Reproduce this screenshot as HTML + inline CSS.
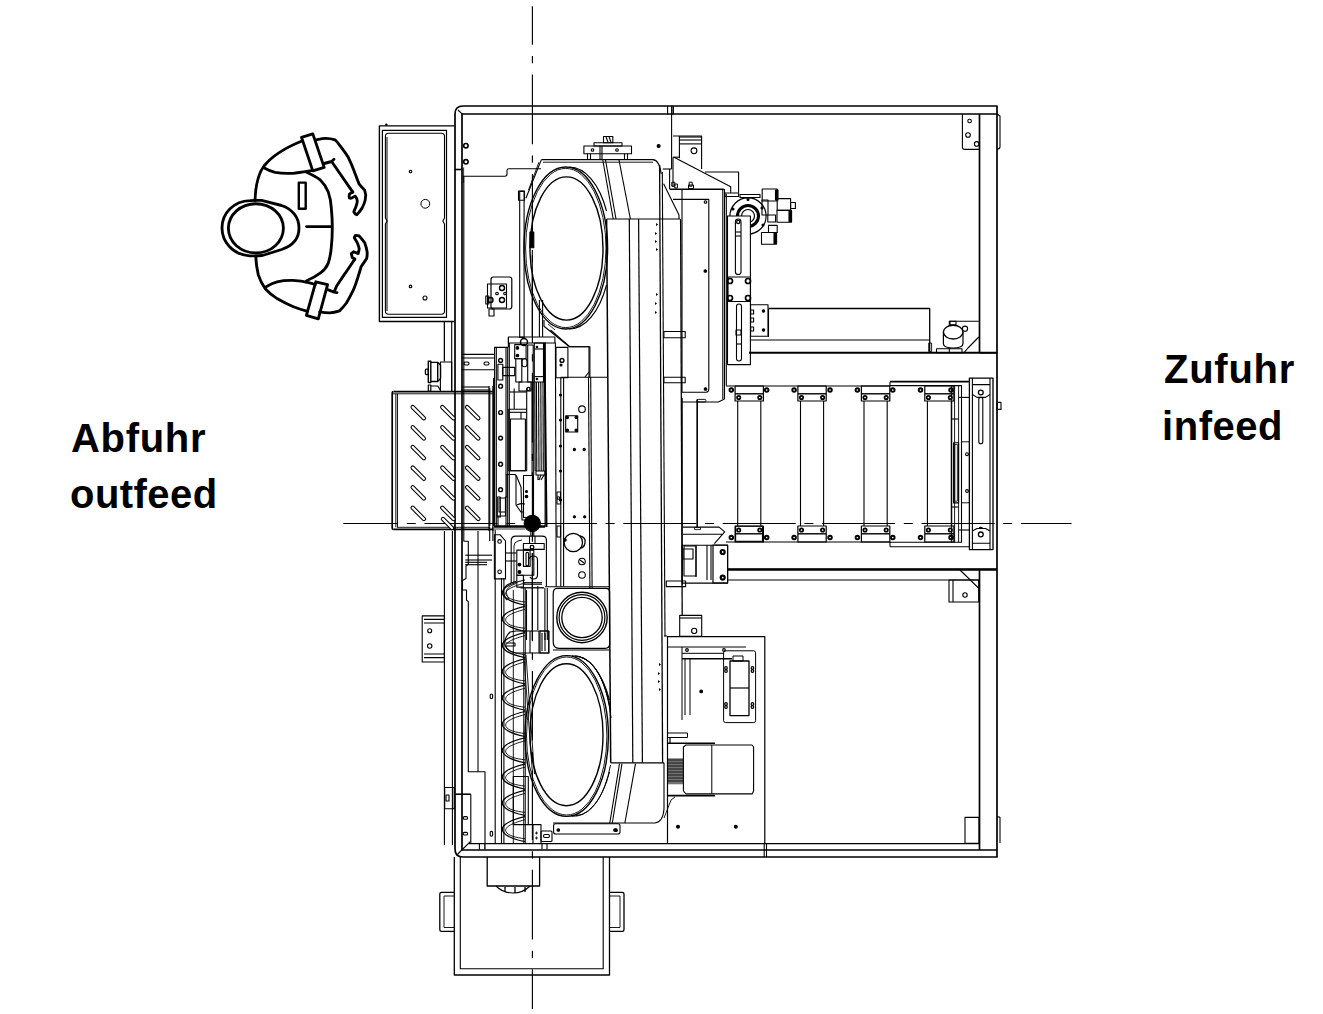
<!DOCTYPE html>
<html><head><meta charset="utf-8"><style>
html,body{margin:0;padding:0;background:#fff;width:1323px;height:1014px;overflow:hidden}
.t{position:absolute;font-family:"Liberation Sans",sans-serif;font-weight:bold;font-size:40px;line-height:1;color:#000;white-space:nowrap}
svg{position:absolute;left:0;top:0}
</style></head><body>
<div class="t" style="left:71px;top:418px;letter-spacing:0.7px">Abfuhr</div>
<div class="t" style="left:70px;top:474px;letter-spacing:0.45px">outfeed</div>
<div class="t" style="left:1164px;top:349px;letter-spacing:0.75px">Zufuhr</div>
<div class="t" style="left:1162px;top:406px;letter-spacing:0.55px">infeed</div>
<svg width="1323" height="1014" viewBox="0 0 1323 1014" fill="none" stroke="#000" stroke-width="1" stroke-linecap="butt" stroke-linejoin="round">
<!-- centerlines -->
<g stroke-width="1.15">
<line x1="532.4" y1="6.3" x2="532.4" y2="1009" stroke-dasharray="69.6 11.3 7.2 11.3" stroke-dashoffset="31.1"/>
<line x1="343.3" y1="523.5" x2="1071.6" y2="523.5" stroke-dasharray="73 8.7 9 8.7" stroke-dashoffset="18.2"/>
</g>
<!-- PERSON -->
<g stroke-width="2.85" stroke-linejoin="round" stroke-linecap="round">
<path d="M261.6,200.4 L281.6,205.5 C292,209 299,217 299,228 C299,239 292,246 281.6,249.5 L262.3,255.5 C258,256 253,256 249.5,255.8 C233,254.5 222,242 222,228 C222,213 234,201 250,200.6 C254,200.4 258,200.3 261.6,200.4 Z"/>
<ellipse cx="255.9" cy="228.3" rx="27.5" ry="24.6"/>
<path d="M255,200.5 C255.5,186 258,174 264,166 C272,156 287,147 302,141"/>
<path d="M301.5,137.3 L312.8,133.9 L324.2,167.4 L312.8,170.9 Z"/>
<path d="M316.3,139.8 C320,139 323,138.3 325.7,138.3 C329,138.3 332,138.8 335,139.8 C337.5,142 339.5,145 341.5,147.7 C344,151 346.5,154.5 348.4,157.6 C350.5,162 352.5,166.5 354.3,171.4 C356,176 357.5,180.5 359.2,184.2 C361,186.5 363,188.5 364.7,190.2 C366,193.5 366,197 365.2,200 C364.5,203 363.5,205.5 362.2,207.9 C360.5,210.5 358.8,212.8 356.8,214.8 C355.5,214.2 354.3,213 353.8,211.9 C354.5,210 355.2,208.5 355.8,206.9 C356.5,205 357.3,203 357.3,201 C357,199 356.3,197.2 355.3,196.1 C354,196.5 353,197.5 351.8,198 C351,198.3 350,198.3 349.4,198 C349,196.7 349,195.3 349.4,194.1 C350.5,193.3 351.7,192.6 352.8,192.1"/>
<path d="M352.8,192.1 L331.6,161.5 L334,159.3 M324.2,163.5 L331.6,161.5"/>
<path d="M263.3,167.4 C267,169.5 271,171.3 275.1,172.3 C281,173.5 287,173.6 292.8,173.3 C298,172.8 302.5,172 306.6,171.4 L312.8,170.4"/>
<path d="M306.6,172.3 C311.5,174.5 316.5,177 320.5,180.2 C324,183.5 326.5,187.5 328.3,192.1 C330,197 331,202.5 331.3,207.8 C332,214.5 332.3,221 332.3,227.6 C332.3,234 332,241 331.3,247.3 C330.8,252.8 329.8,258.3 328.3,263.1 C326.5,267.5 323.8,270.5 320.5,272.9 C316.3,276 311.5,278.7 306.6,280.8"/>
<path d="M255.8,256.2 C256,263 257,269.3 258.3,274.9 C260,280 262.5,284.8 265.2,288.7 C268.7,292.5 272.7,295.8 277.1,298.6 C282,301.5 287.3,304.3 292.8,306.5 C297.5,308.4 302.5,310 307.6,311.4"/>
<path d="M315.8,281.8 L327.6,284.7 L318.3,318.8 L306.4,315.3 Z"/>
<path d="M319.7,311.9 C323,312.5 326.3,312.9 329.6,312.9 C333,312.8 336.4,312 339.5,310.9 C342,308.5 344.3,305.8 346.4,303 C348.8,299 351.2,294.6 353.3,290.2 C355.2,285.6 356.8,281 358.2,276.3 C359.3,273 360.3,269.6 361.2,266.5 C363,263.8 364.9,261.2 366.6,258.6 C367.2,256.3 367.3,254 367.1,251.7 C366.6,248.6 365.8,245.6 364.7,242.8 C363,240.3 361.2,238 359.2,235.9 C357.9,235.5 356.5,235.3 355.3,235.4 C354.8,236.2 354.5,237 354.3,237.8 C355.3,239.5 356.3,241.1 357.3,242.8 C358.1,244.8 358.9,246.7 359.2,248.7 C359,250.4 358.7,252 358.2,253.6 C356.7,253 355.3,252.3 353.8,251.7 C353,252.3 352.1,253 351.3,253.6 C351.6,255 352,256.3 352.3,257.6 C353.2,258.2 354,258.7 354.8,259.1"/>
<path d="M354.8,259.1 C351.5,264 348,269.3 344.4,274.4 C341.8,278.3 339.1,282.3 336.5,286.2 L334.1,292.1 L337,292.6 M327.6,289.7 L334.1,292.1"/>
<path d="M266.2,286.7 C269.8,284.5 273.4,282.8 277.1,281.8 C282.3,280.6 287.5,280.3 292.8,280.4 C298.5,280.7 304,281.5 309.6,282.8 L315.3,284.5"/>
<rect x="298.8" y="182.6" width="6.9" height="26.2" stroke-width="2.4"/>
<line x1="306.6" y1="226.6" x2="331.3" y2="226.6"/>
</g>
<!-- MAIN FRAME -->
<g stroke-width="1.7">
<path d="M997,106 L463,106 Q455,106 455,114 L455,849 Q455,857 463,857 L997,857 Z"/>
<path d="M997,114 L462,114 L462,850 L997,850"/>
<line x1="979.5" y1="114" x2="979.5" y2="353"/>
<line x1="979.5" y1="570" x2="979.5" y2="850"/>
<line x1="469" y1="843.6" x2="979.5" y2="843.6" stroke-width="1.3"/>
</g>
<g stroke-width="1.1">
<!-- frame joints -->
<line x1="667.6" y1="106" x2="667.6" y2="114.3"/><line x1="671.6" y1="106" x2="671.6" y2="169"/><line x1="673.2" y1="106" x2="673.2" y2="114.5" stroke-width="1.6"/>
<line x1="662.7" y1="169" x2="671.6" y2="169"/><line x1="669.6" y1="169" x2="669.6" y2="189"/><line x1="673" y1="157.2" x2="673" y2="187"/>
<line x1="764.2" y1="843.6" x2="764.2" y2="857"/><line x1="766.5" y1="843.6" x2="766.5" y2="857"/>
<path d="M997,114 L1000,116 L1000,147 Q1000,149 997,149"/>
<!-- top-right bracket -->
<path d="M962.4,114 L962.4,147 Q962.4,149.4 965,149.4 L979.5,149.4"/>
<circle cx="969.6" cy="121" r="1.8"/><circle cx="968" cy="135" r="2.3"/><circle cx="976.7" cy="143.9" r="2.3"/>
<!-- frame left inner lines -->

<line x1="444.4" y1="321" x2="444.4" y2="361"/>
<line x1="444.4" y1="531" x2="444.4" y2="845"/>
<line x1="452.4" y1="531" x2="452.4" y2="845"/>
<path d="M462.7,176.2 L505,176.2 Q507,176.2 507,174 L507,170.5 Q507,168.7 509,168.7 L541,168.7"/>
<circle cx="465.9" cy="145.7" r="2.2" stroke-width="1.6"/><circle cx="465.9" cy="161.8" r="2.2" stroke-width="1.6"/>
<line x1="458" y1="110" x2="462.3" y2="114.2"/>
<line x1="455" y1="169.5" x2="462.3" y2="169.5" stroke-width="1.6"/>
<line x1="463.6" y1="167.5" x2="463.6" y2="183" stroke-width="0.8"/>
</g>
<!-- DOOR PANEL -->
<g stroke-width="1.3">
<path d="M454.5,125.9 L379.4,125.9 L379.4,321.5 L454.5,321.5" stroke-width="1.4"/>
<rect x="382.4" y="130.4" width="64.1" height="187" stroke-width="1.2"/>
<path d="M388.5,133.3 L441.5,133.3 Q444.5,133.3 444.5,136.5 L444.5,218 L442.8,221 L444.5,224 L444.5,311 Q444.5,314.2 441.5,314.2 L388.5,314.2 Q385.4,314.2 385.4,311 L385.4,224 L387.1,221 L385.4,218 L385.4,136.5 Q385.4,133.3 388.5,133.3 Z" stroke-width="1.1"/>
<line x1="387" y1="137" x2="387" y2="311" stroke-width="1"/>
<circle cx="386.3" cy="124.6" r="1.2" fill="#000" stroke="none"/>
<circle cx="410.5" cy="171.5" r="1.3" stroke-width="1.1"/><circle cx="425.3" cy="203.8" r="4.4" stroke-width="1"/>
<circle cx="410.5" cy="286.4" r="1.3" stroke-width="1.1"/><circle cx="425" cy="298" r="2" stroke-width="1.1"/>
</g>
<!-- OUTFEED CHUTE -->
<g stroke-width="1.2">
<path d="M393.5,391.6 L492.9,391.6" stroke-width="1.7"/>
<path d="M393,393.8 L492.9,393.8" stroke-width="0.9"/>
<path d="M393.5,529.4 L492.9,529.4" stroke-width="1.7"/>
<path d="M397,527.3 L490,527.3" stroke-width="0.9"/>
<path d="M393.5,391.6 Q392.2,391.6 392.2,393 L392.2,528 Q392.2,529.4 393.5,529.4" stroke-width="1.7"/>
<line x1="395.8" y1="393.8" x2="395.8" y2="527.3" stroke-width="0.9"/>
<line x1="397.4" y1="393.8" x2="397.4" y2="527.3" stroke-width="1"/>
<line x1="489" y1="386" x2="489" y2="531"/>
<line x1="492.9" y1="386" x2="492.9" y2="531"/>
</g>
<g stroke-width="1">
<line x1="412.7" y1="407.1" x2="423.9" y2="418.3" stroke-width="4.4" stroke-linecap="round"/><line x1="412.7" y1="407.1" x2="423.9" y2="418.3" stroke="#fff" stroke-width="2.3" stroke-linecap="round"/>
<line x1="412.7" y1="427.3" x2="423.9" y2="438.5" stroke-width="4.4" stroke-linecap="round"/><line x1="412.7" y1="427.3" x2="423.9" y2="438.5" stroke="#fff" stroke-width="2.3" stroke-linecap="round"/>
<line x1="412.7" y1="447.0" x2="423.9" y2="458.2" stroke-width="4.4" stroke-linecap="round"/><line x1="412.7" y1="447.0" x2="423.9" y2="458.2" stroke="#fff" stroke-width="2.3" stroke-linecap="round"/>
<line x1="412.7" y1="467.6" x2="423.9" y2="478.8" stroke-width="4.4" stroke-linecap="round"/><line x1="412.7" y1="467.6" x2="423.9" y2="478.8" stroke="#fff" stroke-width="2.3" stroke-linecap="round"/>
<line x1="412.7" y1="487.3" x2="423.9" y2="498.5" stroke-width="4.4" stroke-linecap="round"/><line x1="412.7" y1="487.3" x2="423.9" y2="498.5" stroke="#fff" stroke-width="2.3" stroke-linecap="round"/>
<line x1="412.7" y1="507.8" x2="423.9" y2="519.0" stroke-width="4.4" stroke-linecap="round"/><line x1="412.7" y1="507.8" x2="423.9" y2="519.0" stroke="#fff" stroke-width="2.3" stroke-linecap="round"/>
<line x1="442.3" y1="407.1" x2="453.5" y2="418.3" stroke-width="4.4" stroke-linecap="round"/><line x1="442.3" y1="407.1" x2="453.5" y2="418.3" stroke="#fff" stroke-width="2.3" stroke-linecap="round"/>
<line x1="442.3" y1="427.3" x2="453.5" y2="438.5" stroke-width="4.4" stroke-linecap="round"/><line x1="442.3" y1="427.3" x2="453.5" y2="438.5" stroke="#fff" stroke-width="2.3" stroke-linecap="round"/>
<line x1="442.3" y1="447.0" x2="453.5" y2="458.2" stroke-width="4.4" stroke-linecap="round"/><line x1="442.3" y1="447.0" x2="453.5" y2="458.2" stroke="#fff" stroke-width="2.3" stroke-linecap="round"/>
<line x1="442.3" y1="467.6" x2="453.5" y2="478.8" stroke-width="4.4" stroke-linecap="round"/><line x1="442.3" y1="467.6" x2="453.5" y2="478.8" stroke="#fff" stroke-width="2.3" stroke-linecap="round"/>
<line x1="442.3" y1="487.3" x2="453.5" y2="498.5" stroke-width="4.4" stroke-linecap="round"/><line x1="442.3" y1="487.3" x2="453.5" y2="498.5" stroke="#fff" stroke-width="2.3" stroke-linecap="round"/>
<line x1="442.3" y1="507.8" x2="453.5" y2="519.0" stroke-width="4.4" stroke-linecap="round"/><line x1="442.3" y1="507.8" x2="453.5" y2="519.0" stroke="#fff" stroke-width="2.3" stroke-linecap="round"/>
<line x1="467.1" y1="407.1" x2="478.3" y2="418.3" stroke-width="4.4" stroke-linecap="round"/><line x1="467.1" y1="407.1" x2="478.3" y2="418.3" stroke="#fff" stroke-width="2.3" stroke-linecap="round"/>
<line x1="467.1" y1="427.3" x2="478.3" y2="438.5" stroke-width="4.4" stroke-linecap="round"/><line x1="467.1" y1="427.3" x2="478.3" y2="438.5" stroke="#fff" stroke-width="2.3" stroke-linecap="round"/>
<line x1="467.1" y1="447.0" x2="478.3" y2="458.2" stroke-width="4.4" stroke-linecap="round"/><line x1="467.1" y1="447.0" x2="478.3" y2="458.2" stroke="#fff" stroke-width="2.3" stroke-linecap="round"/>
<line x1="467.1" y1="467.6" x2="478.3" y2="478.8" stroke-width="4.4" stroke-linecap="round"/><line x1="467.1" y1="467.6" x2="478.3" y2="478.8" stroke="#fff" stroke-width="2.3" stroke-linecap="round"/>
<line x1="467.1" y1="487.3" x2="478.3" y2="498.5" stroke-width="4.4" stroke-linecap="round"/><line x1="467.1" y1="487.3" x2="478.3" y2="498.5" stroke="#fff" stroke-width="2.3" stroke-linecap="round"/>
<line x1="467.1" y1="507.8" x2="478.3" y2="519.0" stroke-width="4.4" stroke-linecap="round"/><line x1="467.1" y1="507.8" x2="478.3" y2="519.0" stroke="#fff" stroke-width="2.3" stroke-linecap="round"/>
<line x1="443" y1="519" x2="452" y2="528" stroke-width="4.4" stroke-linecap="round"/><line x1="443" y1="519" x2="452" y2="528" stroke="#fff" stroke-width="2.3" stroke-linecap="round"/>
</g>
<!-- BOTTOM BIN -->
<g stroke-width="1.3">
<path d="M454.3,857 L454.3,975 L609.5,975 L609.5,857"/>
<path d="M460.3,857 L460.3,968.8 L603.2,968.8 L603.2,857" stroke-width="1.1"/>
<path d="M454.3,892.3 L441.5,892.3 Q439.8,892.3 439.8,894 L439.8,929.5 Q439.8,931.4 441.5,931.4 L454.3,931.4" />
<path d="M454.3,896 L444,896 L444,927.5 L454.3,927.5" stroke-width="0.9"/>
<path d="M609.5,892.3 L622.3,892.3 Q624,892.3 624,894 L624,929.5 Q624,931.4 622.3,931.4 L609.5,931.4"/>
<path d="M609.5,896 L620,896 L620,927.5 L609.5,927.5" stroke-width="0.9"/>
<path d="M487.2,857 L487.2,886 L539.6,886 L539.6,857"/>
<path d="M496,886 Q503,893 513,893 Q523,893 530,886" stroke-width="1.1"/>
<line x1="505" y1="887" x2="505" y2="892"/><line x1="515" y1="887" x2="515" y2="893"/><line x1="525" y1="887" x2="525" y2="892"/>
</g>
<!-- TOP WHEEL + HOUSING -->
<g stroke-width="1.1">
<path d="M541.4,159.6 L652.8,159.6 Q659.5,160 661.2,174"/>
<line x1="543" y1="162.2" x2="653" y2="162.2" stroke-width="0.9"/>
<path d="M541.4,159.6 L525.9,198.3"/>
<path d="M539,162 L528.5,190" stroke-width="0.9"/>
<line x1="602.8" y1="160" x2="613.2" y2="219"/><line x1="605.5" y1="160" x2="616" y2="219"/>
<line x1="619" y1="160" x2="630.4" y2="219"/>
<path d="M663.6,183.8 L679,215 L679,219"/>
<line x1="606.6" y1="219" x2="680" y2="219" stroke-width="1.2"/>
<rect x="583.9" y="146" width="47.6" height="7.8"/>
<rect x="594" y="142.8" width="28" height="3.2"/>
<rect x="603.5" y="136.5" width="9.3" height="6.3"/>
<line x1="606" y1="137" x2="608" y2="142"/><line x1="609" y1="137" x2="611" y2="142"/>
<circle cx="592.5" cy="150" r="1.3"/><circle cx="617" cy="150" r="1.3"/>
<path d="M587.5,153.8 V159.6 M590.5,153.8 V159.6 M624.5,153.8 V159.6 M627.5,153.8 V159.6"/>
<line x1="600" y1="146" x2="600" y2="159.6"/><line x1="602" y1="146" x2="602" y2="159.6"/>
<ellipse cx="565.8" cy="248" rx="41.8" ry="81" stroke-width="1.4"/>
<ellipse cx="565.8" cy="248" rx="40.2" ry="79.6" stroke-width="0.9"/>
<path d="M569.4,167 A41.8,81 0 0 1 606.5,210.8" stroke-width="1.2"/>
<path d="M569.4,329 A41.8,81 0 0 0 606.5,285.2" stroke-width="1.2"/>
<ellipse cx="566.5" cy="248.5" rx="36.5" ry="71.6" stroke-width="1.4"/>
<rect x="529.9" y="232" width="3.9" height="15.7" fill="#000"/>
<!-- housing below top wheel -->
<path d="M544,320 L544,326.2 L569.4,346.8 L589.9,346.8 L589.9,377.5"/>
<line x1="548" y1="324" x2="555" y2="330" stroke-width="0.8"/>
</g>
<!-- BELT ARM -->
<g stroke-width="1.1">
<line x1="606.6" y1="219" x2="610.7" y2="762.8" stroke-width="1.5"/>
<line x1="629.3" y1="219" x2="632.8" y2="762.8" stroke-width="1.2"/>
<line x1="638.6" y1="219" x2="642.4" y2="762.8" stroke-width="1.2"/>
<line x1="659.6" y1="165" x2="662.6" y2="762.8" stroke-width="1.3"/>
<line x1="662.3" y1="172" x2="665" y2="636"/>
<line x1="680.6" y1="219" x2="682.2" y2="615" stroke-width="1.3"/>
<line x1="610.7" y1="762.8" x2="664" y2="762.8" stroke-width="1.3"/>
<path d="M664,762.8 L664,809 Q663,822 655,823 L553,823"/>
<line x1="619.5" y1="763.7" x2="609.8" y2="823"/><line x1="622" y1="763.7" x2="612.3" y2="823"/>
<line x1="635.5" y1="763.7" x2="624.9" y2="823"/>
<path d="M664,636 L667,636" />
<!-- small triangles marks on belt -->
<g fill="#000" stroke="none">
<path d="M656,223 l2,1.5 l-2,1.5z M655,232 l2,1.5 l-2,1.5z M655,240 l2,1.5 l-2,1.5z M656,248 l2,1.5 l-2,1.5z"/>
<path d="M656,293 l2,1.5 l-2,1.5z M655,302 l2,1.5 l-2,1.5z M655,311 l2,1.5 l-2,1.5z"/>
<path d="M659,663 l2,1.5 l-2,1.5z M658,672 l2,1.5 l-2,1.5z M658,680 l2,1.5 l-2,1.5z M659,688 l2,1.5 l-2,1.5z"/>
</g>
<rect x="663.9" y="331.5" width="21.3" height="6.3"/>
<rect x="663.9" y="377.2" width="21.3" height="5.5"/>

</g>
<!-- BOTTOM WHEEL -->
<g stroke-width="1.1">
<ellipse cx="566.7" cy="736" rx="41.7" ry="80.4" stroke-width="1.4"/>
<ellipse cx="566.7" cy="736" rx="40.2" ry="79" stroke-width="0.9"/>
<path d="M572,655.8 A40,80.4 0 0 1 609.5,700" stroke-width="1.0"/>
<path d="M575,656 A38,80 0 0 1 610,706" stroke-width="1.0"/>
<path d="M578,656.5 A36,79.5 0 0 1 610.5,712" stroke-width="1.0"/>
<path d="M581,657.5 A34,78.5 0 0 1 611,718" stroke-width="1.0"/>
<path d="M572,816.2 A40,80.4 0 0 0 609.5,772" stroke-width="1.0"/>
<path d="M576,815.5 A37,79.5 0 0 0 610.5,765" stroke-width="1.0"/>
<ellipse cx="566.5" cy="734.7" rx="36.5" ry="71" stroke-width="1.4"/>
<!-- bottom plate -->
<rect x="553.6" y="823.8" width="66.4" height="10.2" rx="2"/>
<circle cx="558.3" cy="830" r="1.3" fill="#000"/><circle cx="615" cy="830" r="1.3" fill="#000"/>
</g>
<!-- RIGHT OF ARM: box, brackets, valve -->
<g stroke-width="1.1">
<!-- bracket with hole -->
<path d="M673,136 L701.6,136 L701.6,169"/>
<line x1="679.4" y1="137" x2="701.6" y2="137"/><line x1="679.4" y1="140" x2="701.6" y2="140"/><line x1="679.4" y1="143.9" x2="701.6" y2="143.9"/><line x1="679.4" y1="136" x2="679.4" y2="158.2"/>
<line x1="673" y1="157.2" x2="679.4" y2="157.2"/>
<circle cx="694" cy="150.8" r="2.9"/>
<circle cx="658.6" cy="146" r="1.5" fill="#000"/>
<!-- diagonal plate -->
<path d="M674,157.2 L730.7,186.8 L730.7,192.7"/>
<path d="M705,172 L738.6,172 L738.6,192.7"/>
<line x1="669.6" y1="189.2" x2="723.8" y2="189.2" stroke-width="1.6"/>
<rect x="671.8" y="182.2" width="3" height="4" stroke-width="1"/><rect x="674.8" y="184" width="2.6" height="4" stroke-width="1"/>
<rect x="689.2" y="182.2" width="3" height="4" stroke-width="1"/><rect x="688.5" y="185" width="5" height="3.5" stroke-width="1"/>
<!-- big box right of belt -->
<path d="M682,189 L682,392.2 L706,392.2 Q708.8,392 708.8,389 L708.8,199.4 L673,199.4" />
<line x1="722.8" y1="189" x2="722.8" y2="399"/><line x1="724.5" y1="189" x2="724.5" y2="399"/><line x1="726.3" y1="194" x2="726.3" y2="385.7"/>
<circle cx="705.5" cy="202" r="1.3"/><circle cx="705.3" cy="271" r="1.3" fill="#000"/><circle cx="705.5" cy="389" r="1.3" fill="#000"/>
<!-- valve / motor unit -->
<circle cx="748" cy="216" r="18.1" stroke-width="1.2"/>
<circle cx="748" cy="216" r="10.5" stroke-width="3"/>
<circle cx="748" cy="216" r="6.5" stroke-width="1.2"/>
<circle cx="748" cy="199.5" r="1" fill="#000"/><circle cx="733" cy="209" r="1" fill="#000"/><circle cx="762" cy="208" r="1" fill="#000"/><circle cx="763" cy="225" r="1" fill="#000"/><circle cx="734" cy="227" r="1" fill="#000"/>
<rect x="725" y="193" width="13.6" height="3.5"/>
<rect x="740" y="194.5" width="20" height="3"/>
<rect x="762.2" y="189" width="15" height="12"/><rect x="775.5" y="190" width="2.5" height="10" fill="#000"/>
<rect x="777.2" y="198.6" width="13.4" height="11.8"/><rect x="790.6" y="202.5" width="4.8" height="6"/>
<rect x="767.8" y="215" width="7.8" height="7"/>
<rect x="777" y="210.4" width="14.4" height="11.8"/><rect x="789" y="211" width="2.6" height="10.5" fill="#000"/>
<rect x="768.5" y="225.4" width="8.7" height="7.1"/>
<rect x="761.5" y="232.5" width="14.9" height="11.8"/><rect x="774" y="233" width="2.6" height="10.5" fill="#000"/>
<rect x="762" y="200" width="6" height="15"/>
<!-- slotted plate -->
<rect x="727.5" y="216" width="22.9" height="148.6" fill="#fff"/>
<rect x="735.4" y="219" width="5.6" height="55.5" rx="2.8"/>
<line x1="736" y1="232" x2="741" y2="232"/><line x1="736" y1="236" x2="741" y2="236"/>
<circle cx="738.2" cy="222" r="1.6" stroke-width="1.3"/>
<rect x="736.5" y="304" width="5" height="57" rx="2.5"/>
<rect x="736" y="330" width="5" height="5"/><line x1="736.5" y1="344" x2="741.5" y2="344"/>
<rect x="728" y="277" width="22.5" height="24.5"/>
<circle cx="730" cy="281" r="2.5" stroke-width="1.7"/><circle cx="748" cy="281" r="2.5" stroke-width="1.7"/>
<circle cx="730" cy="298" r="2.5" stroke-width="1.7"/><circle cx="748" cy="298" r="2.5" stroke-width="1.7"/>
<!-- bracket at slot plate -->
<rect x="750.6" y="304.7" width="17.4" height="31.5"/>
<circle cx="763.5" cy="311" r="1.2" fill="#000"/><circle cx="763.5" cy="330" r="1.2" fill="#000"/>
<rect x="750.6" y="310" width="3" height="4"/><rect x="750.6" y="318" width="3" height="4"/><rect x="750.6" y="327" width="3" height="4"/>
<!-- long bar -->
<path d="M768.5,308.5 L929.7,308.5 L929.7,351.7" stroke-width="1.3"/>
<line x1="750.8" y1="340" x2="929.7" y2="340" stroke-width="1.2"/>
<line x1="768.5" y1="308.5" x2="768.5" y2="337"/>
<line x1="749" y1="352.7" x2="997.5" y2="352.7" stroke-width="2.1"/>
<!-- cylinder -->
<path d="M949.3,352.7 L949.3,321.3 L978.8,321.3"/>

<path d="M978.8,337 L968,348 L964,352.7"/>
<path d="M943.4,332.1 L943.4,343.5 Q943.4,348 953.2,348 Q963,348 963,343.5 L963,332.1" stroke-width="1.2" fill="#fff"/>
<ellipse cx="953.2" cy="332.1" rx="9.8" ry="6.9" stroke-width="1.4" fill="#fff"/>
<circle cx="965" cy="328.7" r="2.6"/>
<rect x="936.5" y="348.8" width="25.5" height="3.9"/>
<rect x="928.7" y="343" width="2.9" height="8.7" stroke-width="0.9"/>
<rect x="950" y="321.3" width="6" height="3.5"/>
<line x1="980" y1="353" x2="997" y2="353"/>
</g>
<!-- INFEED CONVEYOR -->
<g stroke-width="1.1">
<line x1="697.4" y1="399" x2="697.4" y2="527"/>
<path d="M726,386 L890,386 M726,542 L890,542"/>
<line x1="890" y1="381.7" x2="969" y2="381.7" stroke-width="1.8"/>
<line x1="890" y1="546.7" x2="969" y2="546.7" stroke-width="1.1"/>
<line x1="890" y1="381.7" x2="890" y2="386"/><line x1="890" y1="542" x2="890" y2="546.7"/>
<path d="M890,385.6 L961.5,385.6 L961.5,542.3 L890,542.3" />
<line x1="951.7" y1="385.6" x2="951.7" y2="542.3"/><line x1="954.6" y1="385.6" x2="954.6" y2="542.3" stroke-width="0.9"/>
<line x1="958.6" y1="385.6" x2="958.6" y2="542.3" stroke-width="0.9"/>
<rect x="969.4" y="378.1" width="23.6" height="171.5" stroke-width="1.3"/>
<line x1="972.4" y1="378.1" x2="972.4" y2="549.6"/><line x1="990" y1="378.1" x2="990" y2="549.6"/>
<path d="M972.4,384.6 L990,384.6 M972.4,394.5 L977,397.4 L985.5,397.4 L990,394.5"/>
<path d="M972.4,543.3 L990,543.3 M972.4,531 L977,528.5 L985.5,528.5 L990,531"/>
<rect x="978.8" y="397.4" width="4" height="46.3" rx="2"/>
<circle cx="980.8" cy="392.5" r="2.4" stroke-width="1.3"/><circle cx="980.8" cy="534.4" r="2.4" stroke-width="1.3"/>
<path d="M979,528.5 A2,2 0 0 1 982.6,528.5"/>
<rect x="997" y="402.4" width="4" height="7"/>
<rect x="953.6" y="442.8" width="5" height="60.1"/><rect x="954.8" y="444.5" width="2.6" height="56.7" stroke-width="0.8"/>
<rect x="961.5" y="441.8" width="7.9" height="61" stroke-width="0.9"/>
<line x1="958.6" y1="397.4" x2="969.4" y2="397.4"/><line x1="958.6" y1="530" x2="969.4" y2="530"/>
<line x1="951.7" y1="419" x2="958.6" y2="419"/><line x1="951.7" y1="507" x2="958.6" y2="507"/>
<circle cx="967" cy="454.2" r="1.4"/><circle cx="967" cy="491" r="1.4"/>
<line x1="737.7" y1="401" x2="737.7" y2="526"/><line x1="760.8" y1="401" x2="760.8" y2="526"/>
<rect x="735.1" y="386" width="28.3" height="15" stroke-width="1.2"/><line x1="735.1" y1="393.8" x2="763.4" y2="393.8" stroke-width="1.4"/>
<rect x="735.1" y="526" width="28.3" height="16" stroke-width="1.2"/><line x1="735.1" y1="533.8" x2="763.4" y2="533.8" stroke-width="1.4"/>
<circle cx="738.7" cy="397.5" r="1.7" stroke-width="1.7"/><circle cx="738.7" cy="530" r="1.7" stroke-width="1.7"/>
<circle cx="759.8" cy="397.5" r="1.7" stroke-width="1.7"/><circle cx="759.8" cy="530" r="1.7" stroke-width="1.7"/>
<line x1="800.5" y1="401" x2="800.5" y2="526"/><line x1="823.6" y1="401" x2="823.6" y2="526"/>
<rect x="797.9" y="386" width="28.3" height="15" stroke-width="1.2"/><line x1="797.9" y1="393.8" x2="826.2" y2="393.8" stroke-width="1.4"/>
<rect x="797.9" y="526" width="28.3" height="16" stroke-width="1.2"/><line x1="797.9" y1="533.8" x2="826.2" y2="533.8" stroke-width="1.4"/>
<circle cx="801.5" cy="397.5" r="1.7" stroke-width="1.7"/><circle cx="801.5" cy="530" r="1.7" stroke-width="1.7"/>
<circle cx="822.6" cy="397.5" r="1.7" stroke-width="1.7"/><circle cx="822.6" cy="530" r="1.7" stroke-width="1.7"/>
<line x1="864" y1="401" x2="864" y2="526"/><line x1="887.2" y1="401" x2="887.2" y2="526"/>
<rect x="861.4" y="386" width="28.4" height="15" stroke-width="1.2"/><line x1="861.4" y1="393.8" x2="889.8" y2="393.8" stroke-width="1.4"/>
<rect x="861.4" y="526" width="28.4" height="16" stroke-width="1.2"/><line x1="861.4" y1="533.8" x2="889.8" y2="533.8" stroke-width="1.4"/>
<circle cx="865.0" cy="397.5" r="1.7" stroke-width="1.7"/><circle cx="865.0" cy="530" r="1.7" stroke-width="1.7"/>
<circle cx="886.2" cy="397.5" r="1.7" stroke-width="1.7"/><circle cx="886.2" cy="530" r="1.7" stroke-width="1.7"/>
<line x1="927.4" y1="401" x2="927.4" y2="526"/><line x1="951.3" y1="401" x2="951.3" y2="526"/>
<rect x="924.8" y="386" width="29.1" height="15" stroke-width="1.2"/><line x1="924.8" y1="393.8" x2="953.9" y2="393.8" stroke-width="1.4"/>
<rect x="924.8" y="526" width="29.1" height="16" stroke-width="1.2"/><line x1="924.8" y1="533.8" x2="953.9" y2="533.8" stroke-width="1.4"/>
<circle cx="928.4" cy="397.5" r="1.7" stroke-width="1.7"/><circle cx="928.4" cy="530" r="1.7" stroke-width="1.7"/>
<circle cx="950.3" cy="397.5" r="1.7" stroke-width="1.7"/><circle cx="950.3" cy="530" r="1.7" stroke-width="1.7"/>
<circle cx="731.3" cy="390" r="1.8" stroke-width="1.9"/><circle cx="731.3" cy="537.5" r="1.8" stroke-width="1.9"/>
<circle cx="766.7" cy="390" r="1.8" stroke-width="1.9"/><circle cx="766.7" cy="537.5" r="1.8" stroke-width="1.9"/>
<circle cx="794.1" cy="390" r="1.8" stroke-width="1.9"/><circle cx="794.1" cy="537.5" r="1.8" stroke-width="1.9"/>
<circle cx="830" cy="390" r="1.8" stroke-width="1.9"/><circle cx="830" cy="537.5" r="1.8" stroke-width="1.9"/>
<circle cx="857.4" cy="390" r="1.8" stroke-width="1.9"/><circle cx="857.4" cy="537.5" r="1.8" stroke-width="1.9"/>
<circle cx="892.8" cy="390" r="1.8" stroke-width="1.9"/><circle cx="892.8" cy="537.5" r="1.8" stroke-width="1.9"/>
<circle cx="920.5" cy="390" r="1.8" stroke-width="1.9"/><circle cx="920.5" cy="537.5" r="1.8" stroke-width="1.9"/>
<circle cx="951" cy="390" r="1.8" stroke-width="1.9"/><circle cx="951" cy="537.5" r="1.8" stroke-width="1.9"/>
<line x1="727" y1="569.8" x2="997" y2="569.8" stroke-width="2"/>
<line x1="727" y1="580" x2="979.5" y2="580"/>
<path d="M960,570 L979.5,589" />
<rect x="949" y="580" width="29.7" height="22" />
<line x1="953" y1="580" x2="953" y2="602"/>
<circle cx="965" cy="595" r="2.2"/>
<rect x="965" y="817.4" width="14" height="26"/>
<line x1="997" y1="817" x2="1000" y2="817"/><line x1="1000" y1="817" x2="1000" y2="843"/>
</g>
<!-- MOTOR HOUSING BOX -->
<g stroke-width="1.2">
<path d="M667,636.7 L764.8,636.7 L764.8,843.6"/>
<line x1="667.5" y1="636.7" x2="667.5" y2="843.6"/>
<line x1="667" y1="647" x2="746" y2="647" stroke-width="1"/>
<line x1="682" y1="653.3" x2="724" y2="653.3" stroke-width="1"/>
<line x1="682" y1="658.8" x2="732" y2="658.8" stroke-width="1.6"/>
<line x1="682" y1="647" x2="682" y2="720" stroke-width="1"/><line x1="685" y1="658.8" x2="685" y2="715" stroke-width="1"/>
<line x1="690" y1="658.8" x2="690" y2="715" stroke-width="1"/>
<rect x="723.6" y="650.8" width="32" height="71.8" rx="2" stroke-width="1"/>
<rect x="730" y="661" width="19" height="54.6" stroke-width="1.3"/>
<line x1="730" y1="688" x2="749" y2="688"/>
<rect x="733" y="656" width="10" height="5" stroke-width="1"/>
<circle cx="726" cy="668" r="1.3"/><circle cx="726" cy="671" r="1.3"/><circle cx="752.5" cy="668" r="1.3"/><circle cx="752.5" cy="671" r="1.3"/>
<circle cx="726" cy="704" r="1.3"/><circle cx="726" cy="707" r="1.3"/><circle cx="752.5" cy="704" r="1.3"/><circle cx="752.5" cy="707" r="1.3"/>
<circle cx="701.2" cy="691.4" r="1.3" fill="#000"/>
<circle cx="687" cy="650" r="1.3"/><circle cx="724" cy="650" r="1.3"/>
<!-- motor -->
<path d="M683.4,747 L683.4,791 L686,793.9 L752,793.9 L753.6,791 L753.6,747 L752,745 L686,745 Z" stroke-width="1.1"/>
<line x1="711.8" y1="745" x2="711.8" y2="793.9" stroke-width="1"/>
<line x1="667.5" y1="743.3" x2="715" y2="743.3" stroke-width="1.6"/>
<line x1="667.5" y1="795.6" x2="715" y2="795.6" stroke-width="1.6"/>
<rect x="668" y="758.3" width="15" height="26" fill="#000" stroke="none" opacity="0.55"/>
<path d="M668,760 H683 M668,763 H683 M668,766 H683 M668,769 H683 M668,772 H683 M668,775 H683 M668,778 H683 M668,781 H683" stroke-width="0.8"/>
<rect x="667.5" y="733" width="20" height="4.5" stroke-width="1"/>
<line x1="670" y1="737.5" x2="670" y2="743"/>
<circle cx="678" cy="826.7" r="1.4" fill="#000"/><circle cx="735.8" cy="826.7" r="1.4" fill="#000"/>
<circle cx="616" cy="830.2" r="1.3" fill="#000"/>
<path d="M664,818 L671,800 L675,797" stroke-width="0.9"/>
</g>
<!-- LEFT SIDE (frame-left zone) -->
<g stroke-width="1.1">
<line x1="463.8" y1="176" x2="463.8" y2="541"/>
<line x1="444.4" y1="321" x2="444.4" y2="361.5"/>
<rect x="428.3" y="361.3" width="2.5" height="21.2" stroke-width="1.4"/>
<rect x="425.4" y="369.2" width="2.9" height="5.4" rx="1" stroke-width="1.3"/>
<path d="M430.8,362.3 L437.7,362.3 L440.6,365.2 L440.6,378.5 L437.7,381.5 L430.8,381.5" stroke-width="1.3"/>
<line x1="437.7" y1="363" x2="437.7" y2="381" stroke-width="1.4"/>
<path d="M440.4,391.4 L440.4,362 L451.7,362 L451.7,391.4"/>
<rect x="428.3" y="385" width="2.5" height="6.4" stroke-width="1.2"/>
<path d="M430.8,386 L437.7,386 L440.6,390.5" stroke-width="1.2"/>
<line x1="451.7" y1="322" x2="451.7" y2="391"/>
<line x1="461.6" y1="354.4" x2="494.6" y2="354.4"/><line x1="461.6" y1="358" x2="494.6" y2="358"/>
<line x1="461.6" y1="369.8" x2="494.6" y2="369.8"/>
<rect x="464" y="362" width="5" height="3" rx="1.5"/><rect x="484" y="362" width="5" height="3" rx="1.5"/>
<line x1="461.6" y1="387" x2="489" y2="387"/><line x1="461.6" y1="390" x2="489" y2="390"/>
<!-- left bracket lower -->
<rect x="422.2" y="615.9" width="22.2" height="46.1"/><path d="M424,619.4 H444.4 M424,623 H444.4 M424,654 H444.4 M424,657.6 H444.4"/>

<circle cx="429.7" cy="630.8" r="2"/><circle cx="429.7" cy="646" r="2.2"/>
<rect x="444.7" y="787.5" width="9.5" height="21.3"/>
<rect x="446" y="795" width="3" height="6"/>
<!-- inner columns left of spring -->
<path d="M463.5,541.3 L468.3,541.3 L468.3,564.4 L466,566 L466,578.6 L462.5,580.4 L462.5,590 L466.5,590 L466.5,600 L468.3,601.7 L468.3,771.8 L485,771.8 L485,843"/>
<path d="M478,531 L478,771.8"/>
<path d="M470.8,794.2 L470.8,843"/>
<line x1="465.2" y1="555.2" x2="492" y2="555.2"/><line x1="465.2" y1="560" x2="492" y2="560"/>
<line x1="465.2" y1="562.3" x2="487" y2="562.3"/><line x1="465.2" y1="564.7" x2="487" y2="564.7"/>
<line x1="489.7" y1="527" x2="489.7" y2="541"/><line x1="492.9" y1="527" x2="492.9" y2="541"/>
<line x1="495.2" y1="530" x2="495.2" y2="843"/>
<line x1="501.5" y1="578" x2="501.5" y2="843"/><line x1="503.9" y1="578" x2="503.9" y2="843"/>
<line x1="525.2" y1="588" x2="525.2" y2="843"/>
<line x1="513.3" y1="590" x2="513.3" y2="843" stroke-width="0.9"/>
<line x1="523.8" y1="655" x2="532.5" y2="774" stroke-width="0.9"/><line x1="526" y1="655" x2="534.5" y2="774" stroke-width="0.9"/><line x1="523.6" y1="588" x2="523.6" y2="843" stroke-width="0.8"/>

<line x1="455" y1="794.2" x2="470.8" y2="794.2" stroke-width="1.6"/>
<rect x="463.2" y="816.6" width="4.4" height="2.6" rx="1.3"/><rect x="463.2" y="832.4" width="4.4" height="2.6" rx="1.3"/>
<rect x="490.2" y="694" width="2.4" height="4.8" rx="1.2"/><rect x="490.2" y="831.4" width="2.4" height="4.8" rx="1.2"/>
<line x1="470.3" y1="841.7" x2="457.8" y2="854"/>
<line x1="479.4" y1="843.6" x2="479.4" y2="849.6"/><line x1="484.9" y1="843.6" x2="484.9" y2="849.6" stroke-width="1.4"/>
<line x1="542" y1="843.6" x2="542" y2="849.6"/><line x1="547" y1="843.6" x2="547" y2="849.6"/>
</g>
<!-- SPRING -->
<g stroke-width="1.2">
<path d="M525,580.0 C507,584.0 500,590.0 503,595.0 C506,600.0 515,603.0 525,605.0"/>
<path d="M525,583.0 C510,587.0 504,591.0 506,595.0 C508,599.0 516,601.0 525,602.0" stroke-width="0.9"/>
<path d="M525,606.3 C507,610.3 500,616.3 503,621.3 C506,626.3 515,629.3 525,631.3"/>
<path d="M525,609.3 C510,613.3 504,617.3 506,621.3 C508,625.3 516,627.3 525,628.3" stroke-width="0.9"/>
<path d="M525,632.6 C507,636.6 500,642.6 503,647.6 C506,652.6 515,655.6 525,657.6"/>
<path d="M525,635.6 C510,639.6 504,643.6 506,647.6 C508,651.6 516,653.6 525,654.6" stroke-width="0.9"/>
<path d="M525,658.9 C507,662.9 500,668.9 503,673.9 C506,678.9 515,681.9 525,683.9"/>
<path d="M525,661.9 C510,665.9 504,669.9 506,673.9 C508,677.9 516,679.9 525,680.9" stroke-width="0.9"/>
<path d="M525,685.2 C507,689.2 500,695.2 503,700.2 C506,705.2 515,708.2 525,710.2"/>
<path d="M525,688.2 C510,692.2 504,696.2 506,700.2 C508,704.2 516,706.2 525,707.2" stroke-width="0.9"/>
<path d="M525,711.5 C507,715.5 500,721.5 503,726.5 C506,731.5 515,734.5 525,736.5"/>
<path d="M525,714.5 C510,718.5 504,722.5 506,726.5 C508,730.5 516,732.5 525,733.5" stroke-width="0.9"/>
<path d="M525,737.8 C507,741.8 500,747.8 503,752.8 C506,757.8 515,760.8 525,762.8"/>
<path d="M525,740.8 C510,744.8 504,748.8 506,752.8 C508,756.8 516,758.8 525,759.8" stroke-width="0.9"/>
<path d="M525,764.1 C507,768.1 500,774.1 503,779.1 C506,784.1 515,787.1 525,789.1"/>
<path d="M525,767.1 C510,771.1 504,775.1 506,779.1 C508,783.1 516,785.1 525,786.1" stroke-width="0.9"/>
<path d="M525,790.4 C507,794.4 500,800.4 503,805.4 C506,810.4 515,813.4 525,815.4"/>
<path d="M525,793.4 C510,797.4 504,801.4 506,805.4 C508,809.4 516,811.4 525,812.4" stroke-width="0.9"/>
<path d="M525,816.7 C507,820.7 500,826.7 503,831.7 C506,836.7 515,839.7 525,841.7"/>
<path d="M525,819.7 C510,823.7 504,827.7 506,831.7 C508,835.7 516,837.7 525,838.7" stroke-width="0.9"/>
</g>
<!-- CENTER MECHANISM -->
<g stroke-width="1.1">
<!-- rod & lines left of top wheel -->
<rect x="519.7" y="191.4" width="4.4" height="146" />
<rect x="518.5" y="191" width="6" height="9.3"/>
<line x1="532.3" y1="250" x2="532.3" y2="337"/><line x1="539.4" y1="300" x2="539.4" y2="337"/><line x1="542.6" y1="300" x2="542.6" y2="337"/>
<!-- small valve block -->
<rect x="491" y="277" width="20.8" height="32" rx="2.5" stroke-width="1.2"/>
<rect x="487.5" y="284" width="19" height="24"/>
<rect x="485.8" y="296" width="3" height="8"/>
<circle cx="502" cy="288" r="2.5" stroke-width="1.4"/><circle cx="490.5" cy="300" r="2.5" stroke-width="1.4"/><circle cx="502" cy="300" r="2.5" stroke-width="1.4"/>
<circle cx="497" cy="293.5" r="1.3"/><circle cx="505" cy="293.5" r="1.3"/>
<rect x="489" y="309" width="5" height="7"/>
<!-- top block -->
<rect x="508.4" y="337" width="46.5" height="6"/>
<line x1="508.4" y1="337" x2="508.4" y2="347.4"/>
<circle cx="524" cy="342" r="3.5" stroke-width="1.5"/>
<!-- left rail block -->
<path d="M494.6,526 L494.6,347.4 L507.7,347.4 L507.7,526"/>
<line x1="496.3" y1="347.4" x2="496.3" y2="526"/><line x1="506" y1="347.4" x2="506" y2="526"/>
<line x1="509.3" y1="343" x2="509.3" y2="526"/>
<circle cx="500.6" cy="360.4" r="1.9" stroke-width="1.4"/><circle cx="500.6" cy="386.2" r="1.9" stroke-width="1.4"/>
<circle cx="500.6" cy="412.5" r="1.9" stroke-width="1.4"/><circle cx="500.6" cy="438.1" r="1.9" stroke-width="1.4"/>
<circle cx="500.6" cy="464.2" r="1.9" stroke-width="1.4"/><circle cx="500.6" cy="489.7" r="1.9" stroke-width="1.4"/>
<line x1="489.8" y1="388" x2="489.8" y2="526"/><line x1="493.6" y1="378" x2="493.6" y2="526"/>
<!-- handle -->
<rect x="497.9" y="364.2" width="4.9" height="15.8"/>
<rect x="502.8" y="367.4" width="11.9" height="8.2"/>
<!-- switch block -->
<rect x="514.7" y="344.6" width="11.4" height="14.2"/>
<circle cx="517.4" cy="347.9" r="1.3" fill="#000"/><circle cx="517.4" cy="355.5" r="1.3" fill="#000"/>
<rect x="515.8" y="358.8" width="6" height="23.2"/>
<rect x="522" y="358.8" width="5" height="8" rx="2.5"/>
<rect x="527.7" y="345" width="5.5" height="37"/>
<rect x="534.3" y="343" width="9.2" height="39"/>
<line x1="534.3" y1="349" x2="543.5" y2="349"/><line x1="534.3" y1="376.6" x2="543.5" y2="376.6"/>
<circle cx="537" cy="347" r="0.8" fill="#000"/><circle cx="537" cy="379" r="0.8" fill="#000"/>
<rect x="519" y="382" width="12" height="9"/><circle cx="528.5" cy="389" r="1.6" stroke-width="1.4"/>
<line x1="544.5" y1="342.5" x2="546.5" y2="527" stroke-width="2"/>
<line x1="545.1" y1="342.5" x2="545.1" y2="527"/>
<line x1="555.4" y1="342.5" x2="556.2" y2="586.8"/>
<!-- bundle -->
<line x1="534.8" y1="382" x2="535.2" y2="471"/><line x1="536.4" y1="382" x2="536.8" y2="471"/>
<line x1="538.6" y1="382" x2="539" y2="471"/><line x1="540.8" y1="382" x2="541.2" y2="471"/>
<line x1="543" y1="382" x2="543.3" y2="471"/>
<line x1="532.1" y1="382" x2="532.1" y2="475"/><line x1="533.7" y1="382" x2="533.7" y2="475"/>
<rect x="536" y="471" width="9" height="4"/>
<path d="M538,475 L538,480 M541,475 L539,480 M544,475 L541,480"/>
<!-- central rect -->
<rect x="508.8" y="409.2" width="17.9" height="61.5"/>
<rect x="510.4" y="419" width="15" height="51.7"/>
<line x1="514.2" y1="388.6" x2="514.2" y2="409"/><line x1="526.7" y1="388.6" x2="526.7" y2="409"/>
<line x1="509.3" y1="392" x2="526.7" y2="392"/>
<line x1="509.3" y1="412.3" x2="526.7" y2="412.3"/>
<line x1="521" y1="412.3" x2="521" y2="419"/>
<!-- mechanism under rect -->
<path d="M506,474.5 L515,474.5 L516.5,476 L521,487 L522,520 L526,520 M507,475 L507,497 L505.5,497 L505.5,516 L498,516 L498,527"/>
<path d="M516,476 L516,505 L521,512 L524,512"/>
<path d="M517,505 Q521,503 525,504"/>
<rect x="523.5" y="475.5" width="10" height="42"/>
<circle cx="526.5" cy="491.5" r="1" fill="#000"/><circle cx="526.5" cy="496.5" r="1.3" fill="#000"/>
<rect x="499" y="498" width="6.5" height="14"/>
<rect x="497.3" y="497" width="3" height="20"/>
<circle cx="532.3" cy="523.3" r="8.1" fill="#000"/>
<line x1="494" y1="526.5" x2="545" y2="526.5" stroke-width="2.4"/>
<line x1="494" y1="529" x2="525" y2="529" stroke-width="0.8"/>
<!-- right of bundle -->
<rect x="556" y="347.4" width="11.9" height="30.3"/>
<circle cx="562" cy="360.4" r="1.9" stroke-width="1.4"/>
<path d="M550.5,330 L570,346.8 L589,346.8 L589,377.2"/>
<path d="M585,377 L589,372"/>
<path d="M560.8,377.2 L607,377.2"/>
<line x1="560.8" y1="377.2" x2="560.8" y2="586.8"/><line x1="563.6" y1="377.2" x2="563.6" y2="586.8"/>
<line x1="588.5" y1="377.2" x2="589.9" y2="588"/><line x1="590.7" y1="377.2" x2="592.1" y2="588"/>
<circle cx="582" cy="409.2" r="3.3"/>
<rect x="565.7" y="415.7" width="12" height="16.3"/>
<circle cx="567.3" cy="417.5" r="1.2" fill="#000"/><circle cx="576.2" cy="417.5" r="1.2" fill="#000"/>
<circle cx="567.3" cy="430.3" r="1.2" fill="#000"/><circle cx="576.2" cy="430.3" r="1.2" fill="#000"/>
<circle cx="574.4" cy="449.5" r="1.1" fill="#000"/><circle cx="584.2" cy="449.5" r="1.1" fill="#000"/>
<circle cx="574.4" cy="516.8" r="1.1" fill="#000"/><circle cx="584.7" cy="516.8" r="1.1" fill="#000"/>
<circle cx="561" cy="365" r="1" fill="#000"/><circle cx="560.5" cy="395" r="1" fill="#000"/><circle cx="560.5" cy="420" r="1" fill="#000"/><circle cx="560.5" cy="446" r="1" fill="#000"/><circle cx="560.5" cy="471" r="1" fill="#000"/><circle cx="560.5" cy="500" r="1" fill="#000"/>
<rect x="557" y="492" width="3.5" height="12"/><circle cx="558.5" cy="498" r="1.3"/>
<rect x="557" y="526" width="3.5" height="11"/>
<!-- ring & circles below -->
<circle cx="573.3" cy="542.5" r="9.2" stroke-width="1.3"/>
<path d="M580,536 Q586,537 585,543 Q584,548 580,548" stroke-width="1.3"/>
<circle cx="565" cy="540" r="1.2" fill="#000"/>
<circle cx="582" cy="561.5" r="3.3"/><circle cx="582" cy="575" r="3.3"/>
<line x1="580" y1="560" x2="584" y2="563"/>
<!-- lower mechanism under knob -->
<line x1="530.8" y1="531" x2="530.8" y2="536.1"/><line x1="533.8" y1="531" x2="533.8" y2="536.1"/>
<path d="M511.2,583 L511.2,541 Q511.2,536.1 516,536.1 L542,536.1 Q546.4,536.1 546.4,540 L546.4,586.4"/>
<path d="M514,583 L514,546 Q514,542 518,541 L522,540" stroke-width="0.9"/>
<rect x="523.4" y="543.5" width="20.8" height="5.9"/>
<circle cx="532" cy="547.2" r="1.8" stroke-width="1.3"/>
<line x1="529.5" y1="536.1" x2="529.5" y2="543.5"/><line x1="535" y1="536.1" x2="535" y2="543.5"/>
<rect x="516.8" y="550.1" width="17" height="25.2"/>
<rect x="523.4" y="550.1" width="6.7" height="16.3"/>
<rect x="526" y="552.4" width="2.6" height="13.3" rx="1.3"/>
<circle cx="519.4" cy="564.6" r="1.4" fill="#000"/><circle cx="519.4" cy="572" r="1.4" fill="#000"/>
<path d="M529.4,559 Q529.4,556 533.4,556 Q537.5,556 537.5,560 L537.5,575 Q537.5,579 533.4,579 Q531,579 530,577" stroke-width="1.1"/>
<rect x="516.8" y="575.3" width="6.6" height="11.8"/>
<line x1="523.4" y1="582.7" x2="542" y2="582.7"/><line x1="523.4" y1="584.2" x2="542" y2="584.2"/>
<line x1="520.5" y1="587.8" x2="544" y2="587.8" stroke-width="1.3"/>
<line x1="532.3" y1="553" x2="532.3" y2="640"/>
<line x1="537.8" y1="586" x2="537.8" y2="630"/><line x1="526.5" y1="590" x2="526.5" y2="640"/>
<line x1="544.9" y1="588" x2="544.9" y2="640"/><line x1="547.3" y1="588" x2="547.3" y2="640"/>
<path d="M516,581.2 Q503,585 503.5,592 Q504,597 507.2,600" stroke-width="1.1"/>
<path d="M516,583.5 Q506,587 506.3,592.5 Q507,596 509,599" stroke-width="0.9"/>
<!-- bracket beside -->
<path d="M494.4,534.7 L500,534.7 L505.5,541 L505.5,578.9 L494.4,578.9 Z"/>
<circle cx="499.6" cy="541.4" r="1.8"/><circle cx="499.6" cy="571.8" r="1.8"/>
<line x1="506" y1="553" x2="516.5" y2="553"/><line x1="506" y1="561" x2="516.5" y2="561"/>
<!-- clamp block -->
<path d="M516,631 L548.8,631 L548.8,653 L516,653 Q508,652 505,645 Q504,638 510,632 Z"/>
<line x1="530" y1="631" x2="530" y2="653"/><line x1="539" y1="631" x2="539" y2="653"/>
<rect x="540" y="631" width="8.8" height="22"/>
<line x1="542" y1="633" x2="542" y2="651"/><line x1="545" y1="633" x2="545" y2="651"/>
<path d="M506,643 L515,643 L515,646 L506,646"/>
<rect x="513.3" y="776.5" width="15" height="48.1"/>
<path d="M528.3,824.6 L541,824.6 L541,843.6 M533,824.6 L533,843.6"/>
<path d="M535,833 h3 M536.5,831.5 v3 M535,838 h3 M536.5,836.5 v3" stroke-width="0.8"/>
<rect x="541" y="831" width="11" height="10.5" rx="1"/><rect x="543.5" y="834.5" width="6" height="3" rx="1.5"/>
<!-- pulley box -->
<path d="M557,588.4 L606,588.4 Q609.6,588.4 609.6,592 L609.6,644 Q609.6,648.3 605,648.3 L559,648.3 Q553.2,648.3 553.2,642 L553.2,594 Q553.2,588.4 557,588.4 Z" stroke-width="1.2"/>
<circle cx="582" cy="617.5" r="25.2" stroke-width="1.4"/>
<circle cx="582" cy="617.5" r="22.9" stroke-width="1.2"/>
<circle cx="582" cy="617.5" r="20.2" stroke-width="1.3"/>
<line x1="545" y1="586.8" x2="609.6" y2="586.8"/>
<line x1="553" y1="650" x2="609.6" y2="650"/>
</g>
<!-- CONVEYOR LEFT END -->
<g stroke-width="1.1">
<path d="M682.2,402 L718.3,402 L724.5,399"/>

<line x1="682.2" y1="398" x2="682.2" y2="585"/>
<line x1="697" y1="399.5" x2="697" y2="527.6"/>
<rect x="697" y="399.4" width="8.9" height="2.6" rx="1" stroke-width="0.9"/><rect x="694.5" y="527.6" width="6" height="2" stroke-width="0.8"/>
<!-- clamp assembly -->
<path d="M682.9,527.1 L719.1,527.1 L724.7,531.8 L714.4,543.7 M682.9,534.2 L722,534.2"/>
<rect x="682.2" y="545.2" width="45.4" height="37.9"/>
<rect x="684" y="546" width="12" height="30"/>
<rect x="683" y="549" width="10" height="10"/>
<line x1="696" y1="545" x2="696" y2="577"/>
<line x1="707" y1="545" x2="707" y2="580"/><line x1="711" y1="545" x2="711" y2="580"/>
<rect x="713" y="545" width="14.6" height="38" stroke-width="1.2"/>
<circle cx="722.7" cy="552" r="2" stroke-width="2.2"/><circle cx="722.7" cy="577.6" r="2" stroke-width="2.2"/>
<line x1="727.6" y1="568.9" x2="997" y2="568.9" stroke-width="1.2"/>
<rect x="666.3" y="581" width="19.3" height="5.6"/>
<rect x="679.7" y="615.4" width="22" height="21"/>
<line x1="679.7" y1="618" x2="701.7" y2="618"/>
<circle cx="694.2" cy="630.9" r="2.6"/>
<rect x="735.6" y="526.3" width="26.9" height="15"/>
</g>
</svg>
</body></html>
